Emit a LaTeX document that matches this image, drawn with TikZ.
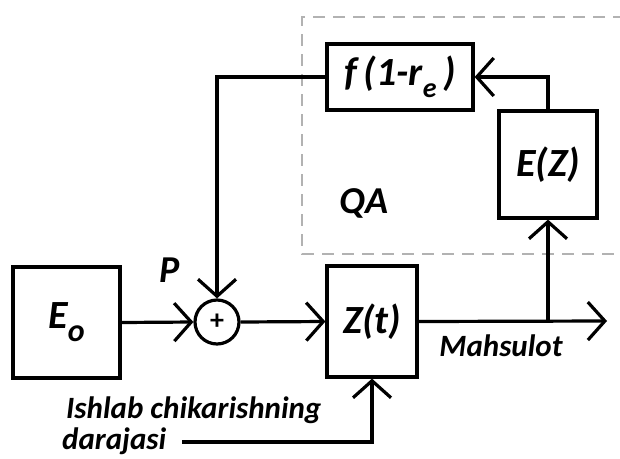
\documentclass[tikz,border=0pt]{standalone}
\usepackage{fontspec}
\setmainfont{Carlito}
\usetikzlibrary{arrows.meta,calc}
\begin{document}
\begin{tikzpicture}[x=1pt,y=-1pt,
  blk/.style={draw,line width=3.2pt,inner sep=0pt,font=\fontsize{40}{44}\selectfont\bfseries\itshape},
  lbl/.style={inner sep=0pt,font=\fontsize{31}{34}\selectfont\bfseries\itshape},
  big/.style={inner sep=0pt,font=\fontsize{38}{42}\selectfont\bfseries\itshape},
  conn/.style={line width=3.2pt,-{Straight Barb[length=17pt,width=38pt]}}]
\useasboundingbox (0,0) rectangle (620,458);
% dashed region
\draw[gray!60,line width=2pt,dash pattern=on 12pt off 8pt] (625,17) -- (302,17) -- (302,254) -- (625,254);
\node[blk,minimum width=107pt,minimum height=111pt] (eo) at (66.5,322.5) {E\raisebox{-0.32em}{\fontsize{32}{32}\selectfont o}};
\node[draw,circle,line width=3.2pt,minimum size=44pt,inner sep=0pt,font=\fontsize{28}{28}\selectfont\bfseries] (sum) at (217,322) {+};
\node[blk,minimum width=90pt,minimum height=111pt] (z) at (372,321.5) {Z(t)};
\node[blk,minimum width=146pt,minimum height=66pt] (f) at (400,77) {f\,(1-r\raisebox{-0.3em}{\fontsize{28}{28}\selectfont e}\,)};
\node[blk,minimum width=98pt,minimum height=107pt] (ez) at (548,164.5) {E(Z)};
\coordinate (out) at (607,321);
\coordinate (in) at (182,442);
\node[big] (p) at (170,270) {P};
\node[big] (qa) at (364,203) {QA};
\node[lbl] (mah) at (501,346) {Mahsulot};
\node[lbl,anchor=west] (ish) at (66,410) {Ishlab chikarishning};
\node[lbl,anchor=west] (dar) at (62,441) {darajasi};
% connectors
\draw[conn] (eo.east) -- (sum.west);
\draw[conn] (f.west) -- (sum.north |- f.west) -- (sum.north);
\draw[conn] (sum.east) -- (z.west);
\draw[conn] (z.east) -- (out);
\draw[conn] (ez.south |- z.east) -- (ez.south);
\draw[conn] (ez.north) -- (ez.north |- f.east) -- (f.east);
\draw[conn] (in) -- (z.south |- in) -- (z.south);
\end{tikzpicture}
\end{document}
